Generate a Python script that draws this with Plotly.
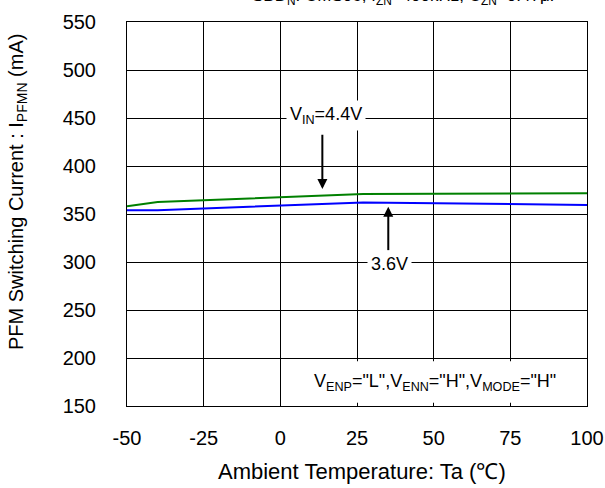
import plotly.graph_objects as go

# Data
temp_vin44 = [-50, -40, 27, 85, 100]
i_vin44 = [358, 362.5, 370.8, 370.8, 371.5]
temp_vin36 = [-50, -40, 27, 85, 100]
i_vin36 = [354, 354, 362, 360.4, 359.4]
x_ticks = [-50, -25, 0, 25, 50, 75, 100]
y_ticks = [150, 200, 250, 300, 350, 400, 450, 500, 550]

FONT = "Arial, Liberation Sans, sans-serif"
W, H = 605, 488
L, R, T, B = 127, 18, 22, 82
PW, PH = W - L - R, H - T - B


def px_x(px):
    return (px - L) / PW


def px_y(py):
    return 1 - (py - T) / PH


fig = go.Figure()
fig.add_trace(go.Scatter(x=temp_vin44, y=i_vin44, mode="lines",
                         line=dict(color="#008000", width=2), showlegend=False))
fig.add_trace(go.Scatter(x=temp_vin36, y=i_vin36, mode="lines",
                         line=dict(color="#0000ff", width=2), showlegend=False))

# white box for conditions text
fig.add_shape(type="rect", x0=5.5, x1=99.3, y0=153.5, y1=196.5,
              fillcolor="white", line=dict(width=0), layer="above")

annotations = [
    dict(x=13.7, y=376, ax=13.7, ay=434, xref="x", yref="y", axref="x", ayref="y",
         text="", showarrow=True, arrowhead=2, arrowsize=1, arrowwidth=2, arrowcolor="black"),
    dict(x=15, y=453, xref="x", yref="y", text="V<sub>IN</sub>=4.4V", showarrow=False,
         font=dict(size=18, color="black", family=FONT), bgcolor="white", borderpad=3),
    dict(x=35.2, y=357.6, ax=35.2, ay=310.7, xref="x", yref="y", axref="x", ayref="y",
         text="", showarrow=True, arrowhead=2, arrowsize=1, arrowwidth=2, arrowcolor="black"),
    dict(x=35.7, y=298, xref="x", yref="y", text="3.6V", showarrow=False,
         font=dict(size=18, color="black", family=FONT), bgcolor="white", borderpad=3),
    dict(x=50.4, y=174, xref="x", yref="y",
         text='V<sub>ENP</sub>="L",V<sub>ENN</sub>="H",V<sub>MODE</sub>="H"', showarrow=False,
         font=dict(size=18, color="black", family=FONT)),
    # clipped header text
    dict(x=px_x(406), y=px_y(-3.5), xref="paper", yref="paper",
         text="SBD<sub>N</sub>: CMS06, f<sub>ZN</sub>=400kHz, C<sub>ZN</sub>=0.47μF",
         showarrow=False, yanchor="middle", xanchor="center",
         font=dict(size=17, color="black", family=FONT)),
    # axis titles
    dict(x=px_x(362), y=px_y(471), xref="paper", yref="paper",
         xanchor="center", yanchor="middle",
         text="Ambient Temperature: Ta (℃)", showarrow=False,
         font=dict(size=22, color="black", family=FONT)),
    dict(x=px_x(18), y=px_y(192), xref="paper", yref="paper", textangle=-90,
         xanchor="center", yanchor="middle",
         text="PFM Switching Current : I<sub>PFMN</sub> (mA)", showarrow=False,
         font=dict(size=20, color="black", family=FONT)),
]
fig.update_layout(annotations=annotations)

fig.update_xaxes(range=[-50, 100], tickvals=x_ticks, ticktext=[str(v) for v in x_ticks],
                 showgrid=True, gridcolor="black", gridwidth=1,
                 showline=True, linecolor="black", linewidth=1, mirror=True,
                 zeroline=False, ticks="", automargin=False, ticklabelstandoff=14,
                 tickfont=dict(size=20, color="black", family=FONT))
fig.update_yaxes(range=[150, 550], tickvals=y_ticks, ticktext=[str(v) for v in y_ticks],
                 showgrid=True, gridcolor="black", gridwidth=1,
                 showline=True, linecolor="black", linewidth=1, mirror=True,
                 zeroline=False, ticks="", automargin=False, ticklabelstandoff=26,
                 tickfont=dict(size=20, color="black", family=FONT))

fig.update_layout(width=W, height=H, margin=dict(l=L, r=R, t=T, b=B, autoexpand=False),
                  plot_bgcolor="white", paper_bgcolor="white",
                  font=dict(family=FONT, color="black"))

fig.write_html("out.html", config={"displayModeBar": False},
               post_script="document.body.style.margin='0';document.body.style.overflow='hidden';")
